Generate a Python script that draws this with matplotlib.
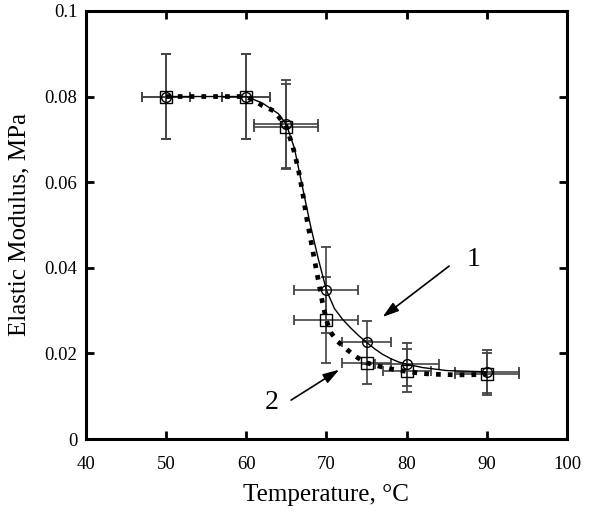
import matplotlib
matplotlib.use("Agg")
import matplotlib.pyplot as plt

plt.rcParams['font.family'] = ['Liberation Serif', 'DejaVu Serif']

# Measured points
temp = [50, 60, 65, 70, 75, 80, 90]
mod1 = [0.080, 0.080, 0.0735, 0.0348, 0.0226, 0.0175, 0.0157]   # series 1 (circles)
mod2 = [0.080, 0.080, 0.0730, 0.0278, 0.0178, 0.0160, 0.0152]   # series 2 (squares)
xerr1 = [3, 3, 4, 4, 3, 4, 4]
xerr2 = [3, 3, 4, 4, 3, 3, 4]
yerr1 = [0.010, 0.010, 0.0103, 0.010, 0.005, 0.005, 0.005]
yerr2 = [0.010, 0.010, 0.010, 0.010, 0.005, 0.005, 0.005]

# Fitted curves
curve1_x = [50, 60, 62, 64, 65, 66, 67, 68, 69, 70, 71, 72, 73, 74, 75, 76, 77, 78, 79, 80, 82, 85, 90]
curve1_y = [0.080, 0.080, 0.0785, 0.0760, 0.0735, 0.068, 0.059, 0.050, 0.042, 0.0348, 0.0305, 0.0280,
            0.0260, 0.0242, 0.0226, 0.0211, 0.0198, 0.0188, 0.0180, 0.0175, 0.0167, 0.0160, 0.0157]
curve2_x = [50, 60, 61.2, 62, 63.5, 65, 65.6, 66, 66.5, 67, 67.5, 68, 68.5, 69, 69.5, 70, 70.5, 71.4,
            72.7, 73.9, 75, 76.6, 78, 80, 82, 84, 86, 88, 90]
curve2_y = [0.080, 0.080, 0.0788, 0.0779, 0.0766, 0.0730, 0.0695, 0.067, 0.063, 0.058, 0.052, 0.047,
            0.042, 0.037, 0.032, 0.0278, 0.025, 0.0228, 0.0207, 0.0190, 0.0178, 0.0170, 0.0164, 0.0158,
            0.0153, 0.0151, 0.0150, 0.0150, 0.0152]

xticks = [40, 50, 60, 70, 80, 90, 100]
yticks = [0, 0.02, 0.04, 0.06, 0.08, 0.1]
ytick_labels = ['0', '0.02', '0.04', '0.06', '0.08', '0.1']

fig = plt.figure(figsize=(6.0, 5.19), dpi=100)
ax = fig.add_axes([0.143, 0.154, 0.802, 0.825])

ecol = '#444444'
ax.errorbar(temp, mod1, xerr=xerr1, yerr=yerr1, fmt='none', ecolor=ecol, elinewidth=1.2,
            capsize=3.5, capthick=1.3, zorder=2)
ax.errorbar(temp, mod2, xerr=xerr2, yerr=yerr2, fmt='none', ecolor=ecol, elinewidth=1.2,
            capsize=3.5, capthick=1.3, zorder=2)

ax.plot(curve1_x, curve1_y, color='black', lw=1.0, zorder=3)
ax.plot(curve2_x, curve2_y, color='black', lw=3.4, linestyle=(0, (1, 1.5)),
        dash_capstyle='butt', zorder=3)

ax.plot(temp, mod1, linestyle='none', marker='o', markersize=7, markerfacecolor='none',
        markeredgecolor='black', markeredgewidth=1.0, zorder=4)
ax.plot(temp, mod2, linestyle='none', marker='s', markersize=8, markerfacecolor='none',
        markeredgecolor='black', markeredgewidth=1.0, zorder=4)

astyle = '-|>,head_length=0.7,head_width=0.22'
ax.annotate('', xy=(77.0, 0.0285), xytext=(85.3, 0.0404),
            arrowprops=dict(arrowstyle=astyle, color='black', lw=1.2, mutation_scale=14,
                            shrinkA=0, shrinkB=0))
ax.text(88.4, 0.0420, '1', fontsize=20, ha='center', va='center')
ax.annotate('', xy=(71.6, 0.0162), xytext=(65.6, 0.0091),
            arrowprops=dict(arrowstyle=astyle, color='black', lw=1.2, mutation_scale=14,
                            shrinkA=0, shrinkB=0))
ax.text(63.2, 0.0086, '2', fontsize=20, ha='center', va='center')

ax.set_xlim(40, 100)
ax.set_ylim(0, 0.1)
ax.set_xticks(xticks)
ax.set_xticklabels([str(t) for t in xticks])
ax.set_yticks(yticks)
ax.set_yticklabels(ytick_labels)
ax.tick_params(direction='in', length=6, width=2, top=True, right=True, labelsize=13.5)
ax.tick_params(axis='x', pad=12)
ax.tick_params(axis='y', pad=6)
for s in ax.spines.values():
    s.set_linewidth(2.2)

ax.set_xlabel('Temperature, °C', fontsize=18, labelpad=8)
ax.set_ylabel('Elastic Modulus, MPa', fontsize=18, labelpad=10)

fig.savefig('out.png', dpi=100)
